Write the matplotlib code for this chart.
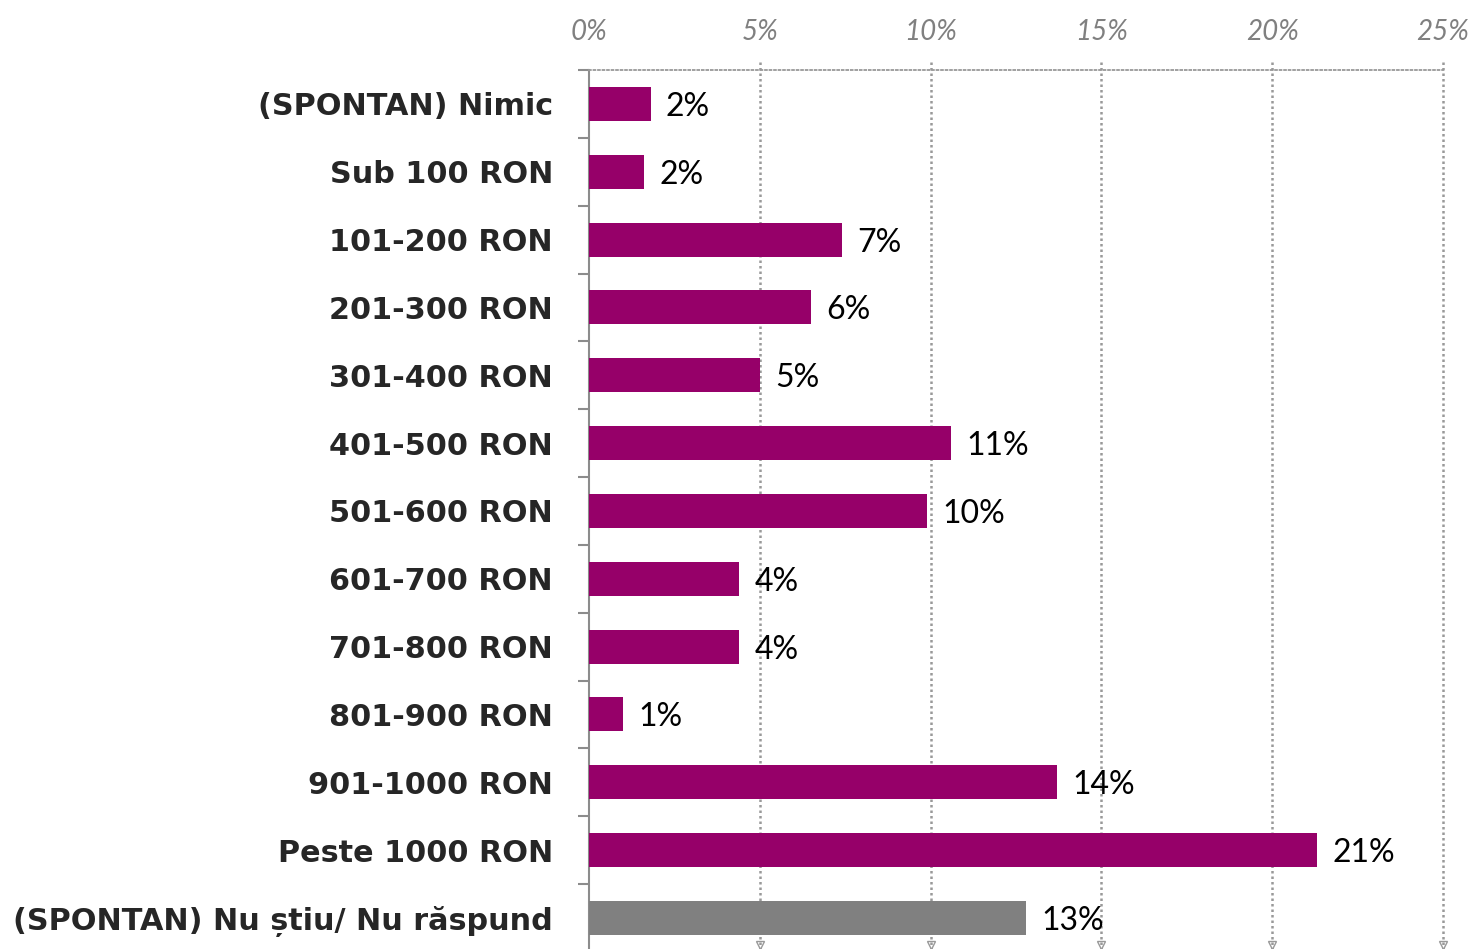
import matplotlib.pyplot as plt
import numpy as np

# ---- data ----
categories = [
    "(SPONTAN) Nimic", "Sub 100 RON", "101-200 RON", "201-300 RON",
    "301-400 RON", "401-500 RON", "501-600 RON", "601-700 RON",
    "701-800 RON", "801-900 RON", "901-1000 RON", "Peste 1000 RON",
    "(SPONTAN) Nu știu/ Nu răspund",
]
values = [1.8, 1.6, 7.4, 6.5, 5.0, 10.6, 9.9, 4.4, 4.4, 1.0, 13.7, 21.3, 12.8]
value_labels = ["2%", "2%", "7%", "6%", "5%", "11%", "10%", "4%", "4%", "1%", "14%", "21%", "13%"]
x_ticks = [0, 5, 10, 15, 20, 25]
x_tick_labels = ["0%", "5%", "10%", "15%", "20%", "25%"]

purple = "#960069"
grey_bar = "#808080"
axis_grey = "#8c8c8c"
bar_colors = [purple] * (len(categories) - 1) + [grey_bar]

fig = plt.figure(figsize=(14.77, 9.49), dpi=100)
ax = fig.add_axes([0.3988, -0.003, 0.5782, 0.9292])

y = np.arange(len(categories))
ax.barh(y, values, height=0.5, color=bar_colors, zorder=3)

ax.set_ylim(len(categories) - 0.5, -0.5)
ax.set_xlim(0, 25)

# value labels
for yi, v, lab in zip(y, values, value_labels):
    ax.text(v + 0.45, yi, lab, va="center_baseline", ha="left", fontsize=23,
            family="Lato", color="black", zorder=4)

# category labels
ax.set_yticks(y)
ax.set_yticklabels(categories, fontsize=21.8, fontweight="bold", color="#262626")
ax.tick_params(axis="y", which="major", length=0, pad=26)
ax.set_yticks(np.arange(-0.5, len(categories), 1), minor=True)
ax.tick_params(axis="y", which="minor", length=8, width=1.5, color=axis_grey)

# top x axis
ax.xaxis.tick_top()
ax.set_xticks(x_ticks)
ax.set_xticklabels(x_tick_labels, fontsize=20, style="italic", family="Lato", color="#808080")
ax.tick_params(axis="x", length=0, pad=18)

# spines
ax.spines["right"].set_visible(False)
ax.spines["bottom"].set_visible(False)
ax.spines["left"].set_color(axis_grey)
ax.spines["left"].set_linewidth(1.5)
ax.spines["top"].set_color("#999999")
ax.spines["top"].set_linestyle((0, (1, 1.5)))
ax.spines["top"].set_linewidth(1.3)

# dotted vertical grid lines, poking above the top line
for xt in x_ticks[1:]:
    ax.axvline(xt, ymin=0.0, ymax=1.013, color="#999999", linestyle=(0, (1, 1.2)),
               linewidth=1.8, clip_on=False, zorder=1)
    ax.plot(xt, len(categories) - 0.6, marker="v", markersize=6,
            markerfacecolor="none", markeredgecolor="#999999", clip_on=False, zorder=1)

fig.savefig("out.png", dpi=100)
